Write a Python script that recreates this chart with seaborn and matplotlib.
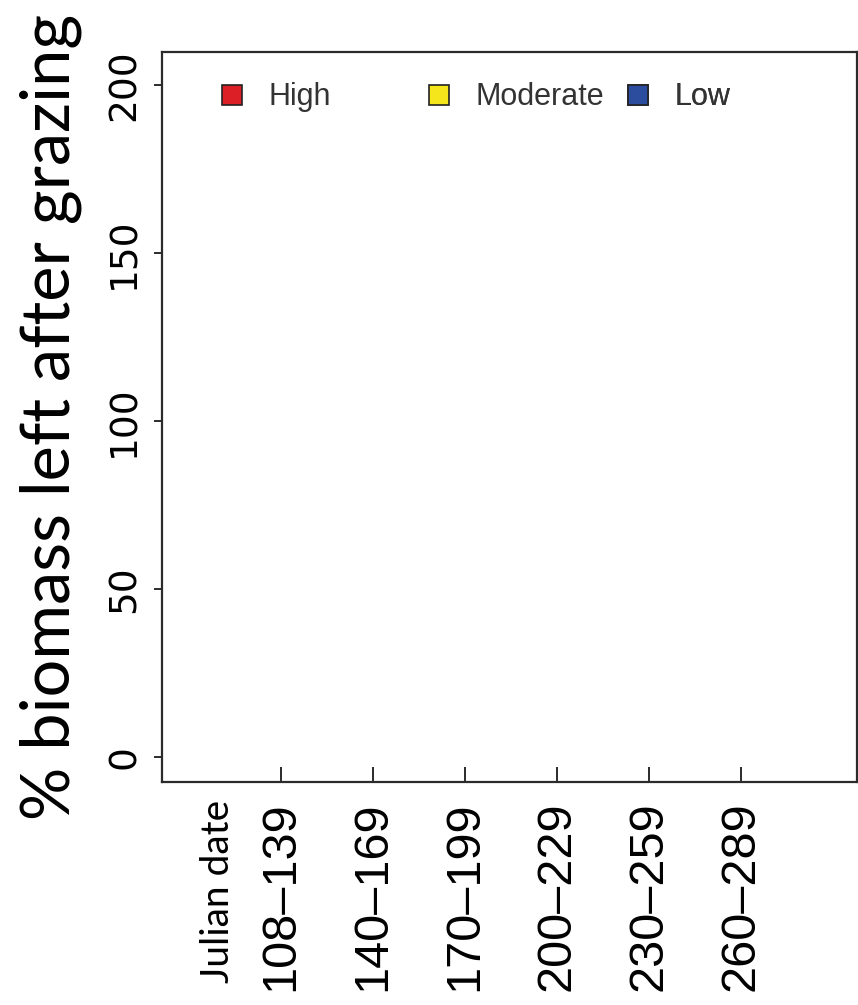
import numpy as np
import pandas as pd
import matplotlib
matplotlib.use('Agg')
import matplotlib.pyplot as plt
import matplotlib.transforms as mtransforms
from matplotlib.lines import Line2D
import seaborn as sns

# grazing periods (Julian date) - no bars plotted in the panel
periods = ['108\u2013139', '140\u2013169', '170\u2013199', '200\u2013229', '230\u2013259', '260\u2013289']
levels = ['High', 'Moderate', 'Low']
level_colors = ['#dc1f26', '#f4e61b', '#2c4c9e']
y_ticks = [0, 50, 100, 150, 200]

sns.set_style('ticks')
plt.rcParams['font.family'] = ['Liberation Sans', 'DejaVu Sans']
plt.rcParams['text.color'] = 'black'

fig = plt.figure(figsize=(8.58, 10.05), dpi=100)
ax = fig.add_axes([0.189, 0.222, 0.81, 0.726])

df = pd.DataFrame({'period': periods})
ax.set_xticks(range(len(df)))
ax.set_xticklabels(df['period'], rotation=90, fontsize=35, va='top')
ax.set_xlim(-1.29, 6.26)
ax.set_ylim(-7.4, 209.8)
ax.set_yticks(y_ticks)
ax.set_yticklabels([str(v) for v in y_ticks], rotation=90, va='center',
                   fontsize=27, family=['Liberation Sans Narrow', 'DejaVu Sans'])

for s in ax.spines.values():
    s.set_linewidth(1.6)
    s.set_color('#2b2b2b')
ax.tick_params(axis='x', direction='in', length=11, width=1.4, pad=14, colors='#2b2b2b', labelcolor='black')
ax.tick_params(axis='y', direction='out', length=6, width=1.4, pad=8, colors='#2b2b2b', labelcolor='black')

ax.set_ylabel('% biomass left after grazing', fontsize=48, color='black',
              family=['Lato', 'DejaVu Sans'], labelpad=18)

trans = mtransforms.blended_transform_factory(ax.transData, ax.transAxes)
ax.text(-0.68, -0.025, 'Julian date', transform=trans, rotation=90, ha='center', va='top',
        fontsize=28, family=['Lato', 'DejaVu Sans'])

# legend entries placed individually, like the original
anchors = [0.083, 0.381, 0.667]
for lab, col, xa in zip(levels, level_colors, anchors):
    h = Line2D([], [], marker='s', linestyle='', markersize=14, markerfacecolor=col,
               markeredgecolor='#222222', markeredgewidth=1.2)
    leg = ax.legend([h], [lab], loc='center left', bbox_to_anchor=(xa, 0.938), frameon=False,
                    fontsize=22, handlelength=0.8, handletextpad=0.8, borderpad=0, borderaxespad=0)
    for t in leg.get_texts():
        t.set_color('#333333')
    ax.add_artist(leg)

fig.savefig('out.png', dpi=100)
